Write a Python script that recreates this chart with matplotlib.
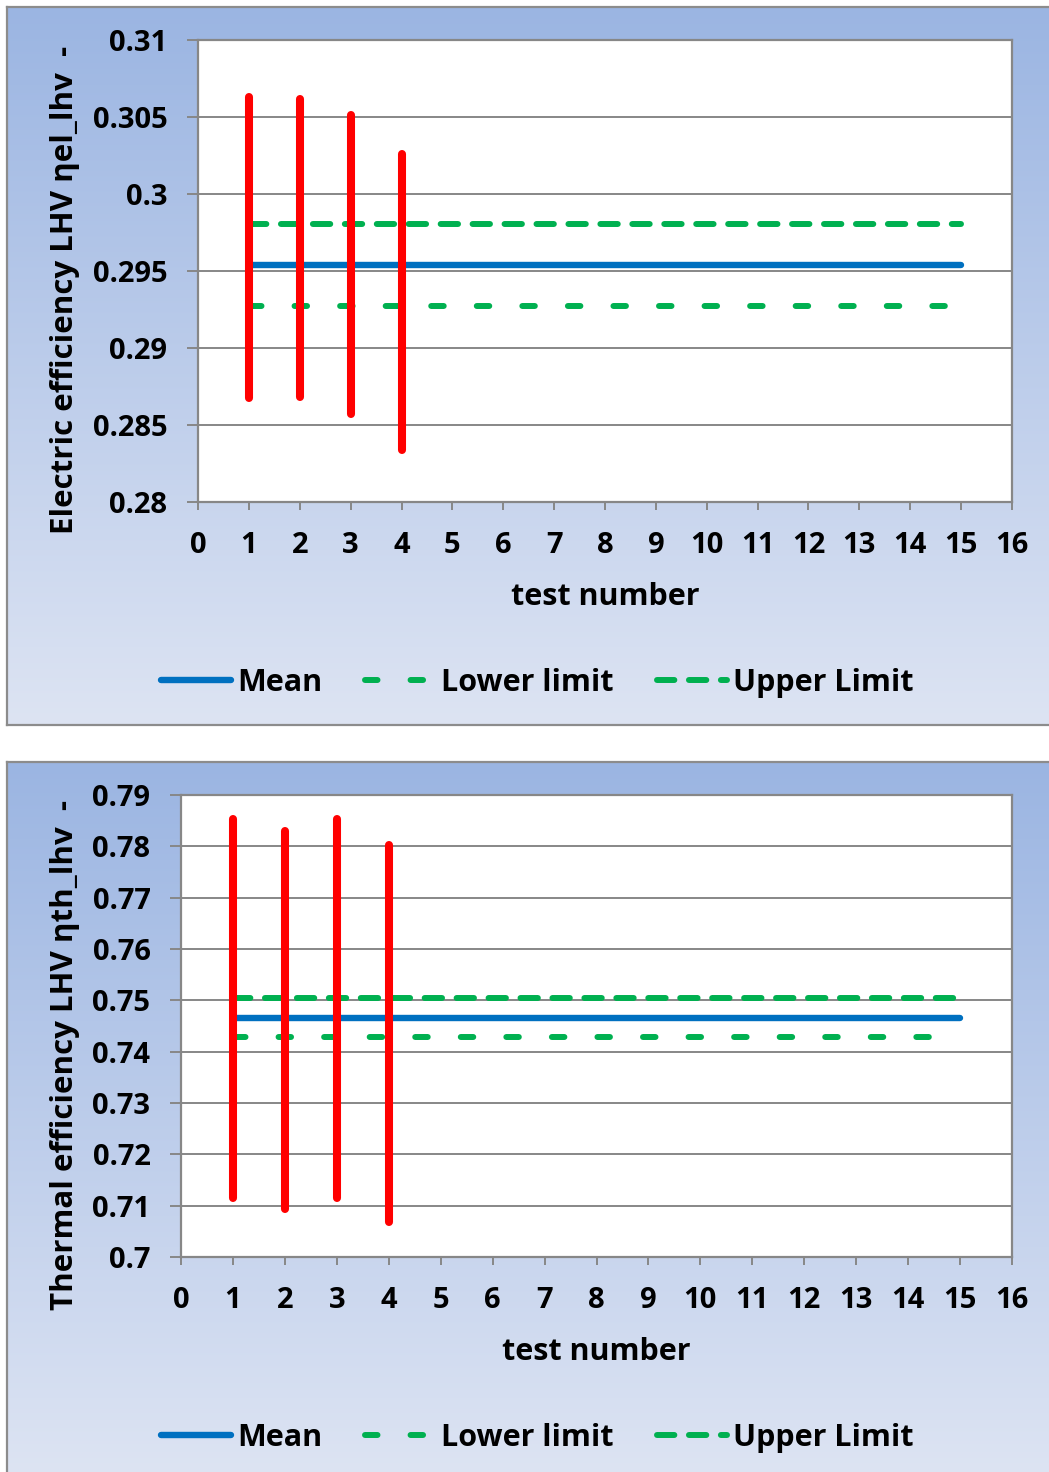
import numpy as np
import matplotlib
matplotlib.use("Agg")
import matplotlib.pyplot as plt
from matplotlib.colors import LinearSegmentedColormap

plt.rcParams['font.family'] = ['Open Sans', 'DejaVu Sans']
plt.rcParams['font.weight'] = 'bold'
plt.rcParams['lines.scale_dashes'] = False

# ---------------- data ----------------
tests = [1, 2, 3, 4]
line_x = [1, 15]

el_high = [0.3063, 0.3062, 0.3051, 0.3026]
el_low = [0.28675, 0.2868, 0.2857, 0.2834]
el_mean = [0.29539, 0.29539]
el_lower = [0.29273, 0.29273]
el_upper = [0.29805, 0.29805]
el_yticks = [0.28, 0.285, 0.29, 0.295, 0.30, 0.305, 0.31]
el_yticklabels = ["0.28", "0.285", "0.29", "0.295", "0.3", "0.305", "0.31"]

th_high = [0.7853, 0.7830, 0.7853, 0.7803]
th_low = [0.7115, 0.7093, 0.7115, 0.7068]
th_mean = [0.74656, 0.74656]
th_lower = [0.74285, 0.74285]
th_upper = [0.75045, 0.75045]
th_yticks = [0.70, 0.71, 0.72, 0.73, 0.74, 0.75, 0.76, 0.77, 0.78, 0.79]
th_yticklabels = ["0.7", "0.71", "0.72", "0.73", "0.74", "0.75", "0.76", "0.77", "0.78", "0.79"]

xticks = list(range(0, 17))
xticklabels = [str(v) for v in xticks]

ylabels = ["Electric efficiency LHV \u03b7el_lhv  -", "Thermal efficiency LHV \u03b7th_lhv  -"]
xlabel = "test number"
legend_labels = ["Mean", "Lower limit", "Upper Limit"]

# ---------------- style ----------------
W, H = 1049, 1472
fig = plt.figure(figsize=(W / 100, H / 100), dpi=100)
fig.patch.set_facecolor('white')

grad = LinearSegmentedColormap.from_list('g', ['#9BB5E2', '#DDE4F3'])
GRID = '#878787'
RED = '#FF0000'
BLUE = '#0070C0'
GREEN = '#00B050'
FS_TICK = 21
FS_LAB = 22


def px(x0, y0, x1, y1):
    """pixel box (top-left origin) -> figure fraction rect"""
    return [x0 / W, 1 - y1 / H, (x1 - x0) / W, (y1 - y0) / H]


def background(box):
    bg = fig.add_axes(px(*box), zorder=0)
    g = np.linspace(0, 1, 256).reshape(-1, 1)
    bg.imshow(g, aspect='auto', cmap=grad, extent=[0, 1, 0, 1])
    bg.set_xticks([])
    bg.set_yticks([])
    for s in bg.spines.values():
        s.set_color('#8C8C8C')
        s.set_linewidth(1.6)
    return bg


def panel(box_bg, box_ax, high, low, mean, lower, upper, yticks, ytl, ylabel,
          ylabel_pos, xlabel_pos, legend_y):
    background(box_bg)
    ax = fig.add_axes(px(*box_ax), zorder=1)
    ax.set_facecolor('white')
    ax.set_xlim(0, 16)
    ax.set_ylim(yticks[0], yticks[-1])
    ax.set_yticks(yticks)
    ax.set_yticklabels(ytl)
    ax.set_xticks(xticks)
    ax.set_xticklabels(xticklabels)
    ax.yaxis.grid(True, color=GRID, lw=1.4)
    ax.set_axisbelow(True)
    for s in ax.spines.values():
        s.set_color(GRID)
        s.set_linewidth(1.6)
    ax.tick_params(axis='y', length=8, width=1.4, color=GRID, pad=14, labelsize=FS_TICK)
    ax.tick_params(axis='x', length=6, width=1.4, color=GRID, pad=15, labelsize=FS_TICK)
    for lab in ax.get_xticklabels() + ax.get_yticklabels():
        lab.set_fontweight('bold')

    # high-low bars
    ax.vlines(tests, low, high, colors=RED, linewidth=5.8, capstyle='round', zorder=4)
    # lines
    l_mean, = ax.plot(line_x, mean, color=BLUE, lw=4.6, solid_capstyle='round', zorder=3)
    l_low, = ax.plot(line_x, lower, color=GREEN, lw=4.3, dash_capstyle='round',
                     dashes=(9.0, 23.8), zorder=3)
    l_up, = ax.plot(line_x, upper, color=GREEN, lw=4.3, dash_capstyle='round',
                    dashes=(12.5, 10.5), zorder=3)

    fig.text(ylabel_pos[0] / W, 1 - ylabel_pos[1] / H, ylabel, rotation=90,
             ha='center', va='center', fontsize=FS_LAB + 0.5, fontweight='bold')
    fig.text(xlabel_pos[0] / W, 1 - xlabel_pos[1] / H, xlabel,
             ha='center', va='center', fontsize=FS_LAB, fontweight='bold')
    fig.legend([l_mean, l_low, l_up], legend_labels, loc='center',
               bbox_to_anchor=(537 / W, 1 - legend_y / H), ncol=3, frameon=False,
               handlelength=2.3, handletextpad=0.2, columnspacing=1.4,
               prop={'weight': 'bold', 'size': FS_LAB})
    return ax


panel((7, 7, 1052, 725), (198, 40, 1012, 502), el_high, el_low, el_mean, el_lower,
      el_upper, el_yticks, el_yticklabels, ylabels[0], (65, 290), (605, 597), 683)
panel((7, 762, 1052, 1475), (181, 795, 1012, 1257), th_high, th_low, th_mean, th_lower,
      th_upper, th_yticks, th_yticklabels, ylabels[1], (65, 1055), (596, 1352), 1438)

fig.savefig('out.png', dpi=100)
